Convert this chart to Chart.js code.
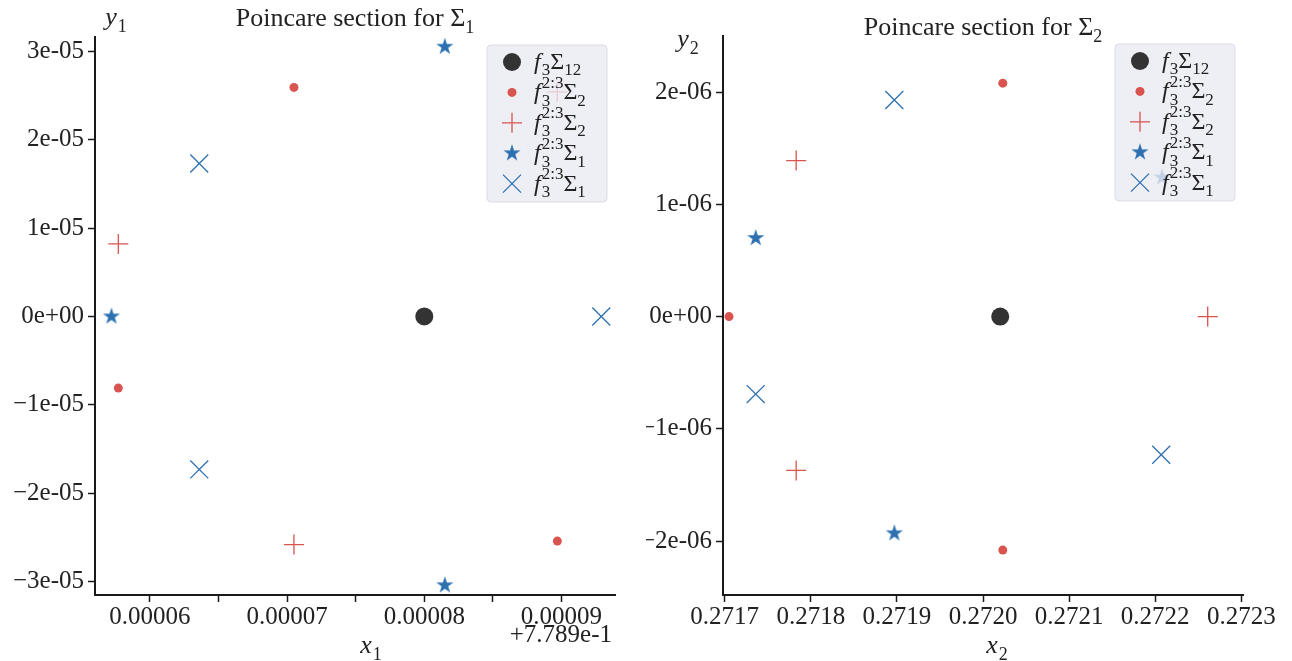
<!DOCTYPE html>
<html>
<head>
<meta charset="utf-8">
<script src="https://cdn.jsdelivr.net/npm/chart.js@4.4.1/dist/chart.umd.min.js"></script>
<style>
html, body { margin: 0; padding: 0; background: #fff; }
#wrap { position: relative; width: 1292px; height: 661px; }
.box { position: absolute; top: 0; width: 646px; height: 661px; }
</style>
</head>
<body>
<div id="wrap">
  <div class="box" style="left:0"><canvas id="leftChart"></canvas></div>
  <div class="box" style="left:646px"><canvas id="rightChart"></canvas></div>
</div>
<script>
// ---- data: [x, y] pairs ----
// left panel: x1 stored relative to 0.7789 (axis shows "+7.789e-1")
var x1Offset = '+7.789e-1';
var s12Left   = [[0.0000800, 0]];
var dotLeft   = [[0.0000705, 2.59e-5], [0.0000577, -0.81e-5], [0.0000897, -2.54e-5]];
var plusLeft  = [[0.0000577, 0.82e-5], [0.0000705, -2.58e-5], [0.0000897, 2.54e-5]];
var starLeft  = [[0.0000815, 3.05e-5], [0.0000815, -3.04e-5], [0.0000572, 0]];
var crossLeft = [[0.0000636, 1.73e-5], [0.0000636, -1.73e-5], [0.0000929, 0]];

// right panel
var s12Right   = [[0.272020, 0]];
var dotRight   = [[0.272023, 2.08e-6], [0.271705, 0], [0.272023, -2.08e-6]];
var plusRight  = [[0.271783, 1.39e-6], [0.271783, -1.37e-6], [0.272261, 0]];
var starRight  = [[0.271736, 0.70e-6], [0.271897, -1.93e-6], [0.272208, 1.24e-6]];
var crossRight = [[0.271897, 1.93e-6], [0.271736, -0.69e-6], [0.272207, -1.23e-6]];

// legend entries (same on both panels)
var legendLabels = [
  [{t: 'f', it: true}, {sub: '3'}, {t: 'Σ'}, {sub: '12'}],
  [{t: 'f', it: true}, {sub: '3', sup: '2:3'}, {t: 'Σ'}, {sub: '2'}],
  [{t: 'f', it: true}, {sub: '3', sup: '2:3'}, {t: 'Σ'}, {sub: '2'}],
  [{t: 'f', it: true}, {sub: '3', sup: '2:3'}, {t: 'Σ'}, {sub: '1'}],
  [{t: 'f', it: true}, {sub: '3', sup: '2:3'}, {t: 'Σ'}, {sub: '1'}]
];

var RED = '#d9534f', BLUE = '#2c70b0', DARK = '#333333', AXIS = '#1a1a1a';
var FONT = '"Liberation Serif", "DejaVu Serif", serif';

function pts(arr) {
  return arr.map(function(p) { return {x: p[0], y: p[1]}; });
}

function starImage(r, color) {
  var c = document.createElement('canvas');
  var s = Math.ceil(r * 2 + 2);
  c.width = s; c.height = s;
  var g = c.getContext('2d');
  g.fillStyle = color;
  g.beginPath();
  for (var i = 0; i < 10; i++) {
    var rr = i % 2 ? r * 0.382 : r;
    var a = -Math.PI / 2 + i * Math.PI / 5;
    g.lineTo(s / 2 + rr * Math.cos(a), s / 2 + rr * Math.sin(a));
  }
  g.closePath();
  g.fill();
  return c;
}
var starImg = starImage(9, BLUE);

// "3e-05" style labels
function sci(v) {
  if (Math.abs(v) < 1e-20) return '0e+00';
  var e = Math.floor(Math.log10(Math.abs(v)) + 1e-9);
  var m = Math.round(v / Math.pow(10, e));
  return (m < 0 ? '−' + (-m) : m) + 'e' + (e < 0 ? '-' : '+') + String(Math.abs(e)).padStart(2, '0');
}

// draw runs of text with italic / sub / sup pieces
function mathText(ctx, runs, x, y, size, align) {
  var small = Math.round(size * 0.7);
  function widthOf(r) {
    if (r.t !== undefined) {
      ctx.font = (r.it ? 'italic ' : '') + size + 'px ' + FONT;
      return ctx.measureText(r.t).width + (r.it ? 1 : 0);
    }
    ctx.font = small + 'px ' + FONT;
    return Math.max(r.sub ? ctx.measureText(r.sub).width : 0, r.sup ? ctx.measureText(r.sup).width : 0);
  }
  var total = 0;
  runs.forEach(function(r) { total += widthOf(r); });
  var cx = align === 'center' ? x - total / 2 : (align === 'right' ? x - total : x);
  ctx.textAlign = 'left';
  ctx.textBaseline = 'alphabetic';
  runs.forEach(function(r) {
    var w = widthOf(r);
    if (r.t !== undefined) {
      ctx.font = (r.it ? 'italic ' : '') + size + 'px ' + FONT;
      ctx.fillText(r.t, cx, y);
    } else {
      ctx.font = small + 'px ' + FONT;
      if (r.sub) ctx.fillText(r.sub, cx, y + size * 0.27);
      if (r.sup) ctx.fillText(r.sup, cx, y - size * 0.48);
    }
    cx += w;
  });
}

function drawMarker(ctx, i, x, y) {
  ctx.save();
  ctx.lineWidth = 1.3;
  if (i === 0) {
    ctx.fillStyle = DARK; ctx.beginPath(); ctx.arc(x, y, 9, 0, Math.PI * 2); ctx.fill();
  } else if (i === 1) {
    ctx.fillStyle = RED; ctx.beginPath(); ctx.arc(x, y, 4.5, 0, Math.PI * 2); ctx.fill();
  } else if (i === 2) {
    ctx.strokeStyle = RED; ctx.beginPath();
    ctx.moveTo(x - 10, y); ctx.lineTo(x + 10, y); ctx.moveTo(x, y - 10); ctx.lineTo(x, y + 10);
    ctx.stroke();
  } else if (i === 3) {
    ctx.drawImage(starImg, x - starImg.width / 2, y - starImg.height / 2);
  } else {
    ctx.strokeStyle = BLUE; ctx.beginPath();
    ctx.moveTo(x - 9, y - 9); ctx.lineTo(x + 9, y + 9); ctx.moveTo(x + 9, y - 9); ctx.lineTo(x - 9, y + 9);
    ctx.stroke();
  }
  ctx.restore();
}

// title, axis labels, offset text and the legend box inside the plot
var decorations = {
  id: 'decorations',
  afterDraw: function(chart, args, o) {
    var ctx = chart.ctx, a = chart.chartArea;
    ctx.save();
    ctx.fillStyle = '#222';
    mathText(ctx, o.title, (a.left + a.right) / 2, o.titleY, 26, 'center');
    mathText(ctx, o.xLabel, o.xLabelPos[0], o.xLabelPos[1], 26, 'center');
    mathText(ctx, o.yLabel, o.yLabelPos[0], o.yLabelPos[1], 26, 'center');
    if (o.offsetText) mathText(ctx, [{t: o.offsetText}], a.right - 3, 642, 25, 'right');

    // legend
    var w = 120, h = 157, lx = a.right - 8 - w, ly = a.top + 8;
    ctx.beginPath();
    ctx.roundRect(lx, ly, w, h, 4);
    ctx.fillStyle = 'rgba(234, 234, 242, 0.8)';
    ctx.fill();
    ctx.strokeStyle = 'rgba(214, 214, 222, 0.8)';
    ctx.lineWidth = 1;
    ctx.stroke();
    for (var i = 0; i < legendLabels.length; i++) {
      var yy = ly + 17 + i * 30.4;
      drawMarker(ctx, i, lx + 25, yy);
      ctx.fillStyle = '#222';
      mathText(ctx, legendLabels[i], lx + 47, yy + 7, 24, 'left');
    }
    ctx.restore();
  }
};

function axisStyle() {
  return {
    grid: { display: true, drawOnChartArea: false, drawTicks: true, tickLength: 7, tickWidth: 1.5, tickColor: AXIS },
    border: { display: true, color: AXIS, width: 2 }
  };
}

function makeChart(id, sets, cfg) {
  var xa = axisStyle(), ya = axisStyle();
  xa.type = 'linear'; xa.min = cfg.xMin; xa.max = cfg.xMax;
  xa.ticks = { stepSize: cfg.xStep, includeBounds: false, autoSkip: false, maxRotation: 0,
               color: '#222', font: { family: FONT, size: 25 }, padding: 0, callback: cfg.xFmt };
  xa.afterFit = function(s) { s.height = 66; };
  ya.min = cfg.yMin; ya.max = cfg.yMax;
  ya.ticks = { stepSize: cfg.yStep, includeBounds: false, autoSkip: false,
               color: '#222', font: { family: FONT, size: 25 }, padding: 4, callback: sci };
  ya.afterFit = function(s) { s.width = cfg.yWidth; };

  return new Chart(document.getElementById(id), {
    type: 'scatter',
    data: {
      datasets: [
        { data: pts(sets[0]), pointStyle: 'circle', pointRadius: 9, backgroundColor: DARK, borderWidth: 0 },
        { data: pts(sets[1]), pointStyle: 'circle', pointRadius: 4.5, backgroundColor: RED, borderWidth: 0 },
        { data: pts(sets[2]), pointStyle: 'cross', pointRadius: 10, borderColor: RED, borderWidth: 1.3 },
        { data: pts(sets[3]), pointStyle: starImg, pointRadius: 9 },
        { data: pts(sets[4]), pointStyle: 'crossRot', pointRadius: 12.7, borderColor: BLUE, borderWidth: 1.3 }
      ]
    },
    options: {
      animation: false,
      responsive: true,
      maintainAspectRatio: false,
      layout: { padding: { top: cfg.top, right: cfg.right, left: 0, bottom: 0 } },
      plugins: {
        legend: { display: false },
        tooltip: { enabled: false },
        decorations: cfg.deco
      },
      scales: { x: xa, y: ya }
    },
    plugins: [decorations]
  });
}

makeChart('leftChart', [s12Left, dotLeft, plusLeft, starLeft, crossLeft], {
  xMin: 0.0000560, xMax: 0.0000939, xStep: 0.000005,
  xFmt: function(v) {
    var k = Math.round(v * 1e5);
    return Math.abs(v * 1e5 - k) < 1e-6 ? (k / 1e5).toFixed(5) : '';
  },
  yMin: -3.15e-5, yMax: 3.16e-5, yStep: 1e-5, yWidth: 95,
  top: 37, right: 31,
  deco: {
    title: [{t: 'Poincare section for Σ'}, {sub: '1'}], titleY: 26,
    xLabel: [{t: 'x', it: true}, {sub: '1'}], xLabelPos: [371, 653],
    yLabel: [{t: 'y', it: true}, {sub: '1'}], yLabelPos: [116, 25],
    offsetText: x1Offset
  }
});

makeChart('rightChart', [s12Right, dotRight, plusRight, starRight, crossRight], {
  xMin: 0.271698, xMax: 0.272302, xStep: 0.0001,
  xFmt: function(v) { return v.toFixed(4); },
  yMin: -2.48e-6, yMax: 2.50e-6, yStep: 1e-6, yWidth: 77,
  top: 36, right: 49,
  deco: {
    title: [{t: 'Poincare section for Σ'}, {sub: '2'}], titleY: 35,
    xLabel: [{t: 'x', it: true}, {sub: '2'}], xLabelPos: [351, 653],
    yLabel: [{t: 'y', it: true}, {sub: '2'}], yLabelPos: [42, 47],
    offsetText: null
  }
});
</script>
</body>
</html>
